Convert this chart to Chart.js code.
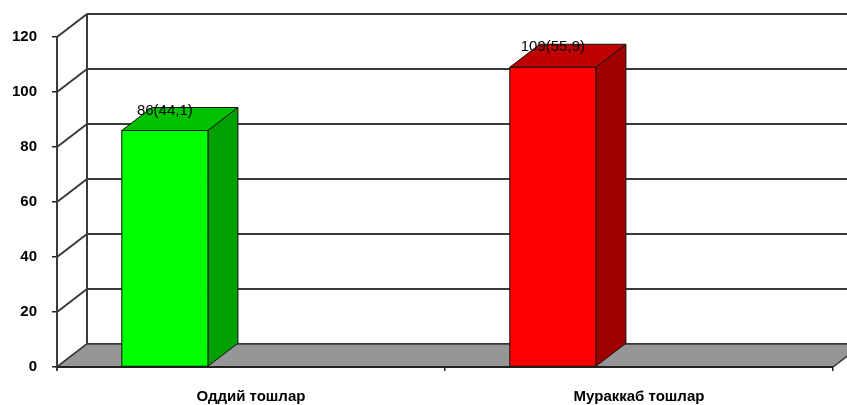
<!DOCTYPE html>
<html>
<head>
<meta charset="utf-8">
<script src="https://cdn.jsdelivr.net/npm/chart.js@4.4.1/dist/chart.umd.min.js"></script>
<style>
  html, body { margin: 0; padding: 0; background: #ffffff; }
  #wrap { width: 847px; height: 405px; }
</style>
</head>
<body>
<div id="wrap"><canvas id="c" width="847" height="405"></canvas></div>
<script>
// Stone counts by type, with their share in percent
const categories = ['Оддий тошлар', 'Мураккаб тошлар'];
const counts = [86, 109];
const percents = ['44,1', '55,9'];
const yTicks = [0, 20, 40, 60, 80, 100, 120];

const frontColors = ['#00ff00', '#ff0000'];
const topColors = ['#00c000', '#c00000'];
const sideColors = ['#00a000', '#a00000'];

// Depth of the 3D box (pixels to the right and up)
const DX = 30, DY = -23;
const LINE = '#3a3a3a';

function poly(ctx, pts, fill, stroke, lw) {
  ctx.beginPath();
  ctx.moveTo(pts[0][0], pts[0][1]);
  for (let i = 1; i < pts.length; i++) ctx.lineTo(pts[i][0], pts[i][1]);
  ctx.closePath();
  if (fill) { ctx.fillStyle = fill; ctx.fill(); }
  if (stroke) { ctx.strokeStyle = stroke; ctx.lineWidth = lw || 1; ctx.stroke(); }
}

function line(ctx, x1, y1, x2, y2, color, lw) {
  ctx.beginPath();
  ctx.moveTo(x1, y1);
  ctx.lineTo(x2, y2);
  ctx.strokeStyle = color;
  ctx.lineWidth = lw;
  ctx.stroke();
}

const box3d = {
  id: 'box3d',
  beforeDatasetsDraw(chart) {
    const ctx = chart.ctx;
    const a = chart.chartArea;
    const y = chart.scales.y;
    ctx.save();
    // back wall and left wall grid lines
    yTicks.forEach(v => {
      const py = y.getPixelForValue(v);
      line(ctx, a.left + DX, py + DY, a.right + DX, py + DY, LINE, 2);
      line(ctx, a.left, py, a.left + DX, py + DY, LINE, 2);
    });
    // back-left vertical edge
    line(ctx, a.left + DX, y.getPixelForValue(120) + DY, a.left + DX, a.bottom + DY, LINE, 2);
    // floor
    poly(ctx, [[a.left, a.bottom], [a.right, a.bottom], [a.right + DX, a.bottom + DY], [a.left + DX, a.bottom + DY]], '#969696', LINE, 1.5);
    // front value axis
    line(ctx, a.left, y.getPixelForValue(120), a.left, a.bottom + 3, LINE, 2);
    line(ctx, a.left, a.bottom, a.right, a.bottom, '#222', 2);
    ctx.restore();
  },
  beforeDatasetDraw(chart, args) {
    const ctx = chart.ctx;
    const meta = args.meta;
    ctx.save();
    ctx.lineJoin = 'round';
    meta.data.forEach((el, i) => {
      const p = el.getProps(['x', 'y', 'base', 'width'], true);
      const w = p.width;
      const x0 = p.x - w / 2 - w;
      const x1 = x0 + w;
      const top = p.y, base = p.base;
      // side face
      poly(ctx, [[x1, top], [x1 + DX, top + DY], [x1 + DX, base + DY], [x1, base]], sideColors[i], '#111', 1);
      // top face
      poly(ctx, [[x0, top], [x1, top], [x1 + DX, top + DY], [x0 + DX, top + DY]], topColors[i], '#111', 1);
      // front face
      poly(ctx, [[x0, top], [x1, top], [x1, base], [x0, base]], frontColors[i], '#111', 1);
      // value label
      ctx.fillStyle = '#000';
      ctx.font = '15px "Liberation Sans", Arial, sans-serif';
      ctx.textAlign = 'center';
      ctx.textBaseline = 'middle';
      ctx.fillText(counts[i] + '(' + percents[i] + ')', (x0 + x1) / 2, top - 20);
    });
    ctx.restore();
    return false;
  }
};

new Chart(document.getElementById('c'), {
  type: 'bar',
  data: {
    labels: categories,
    datasets: [{
      data: counts,
      backgroundColor: frontColors,
      categoryPercentage: 1,
      barPercentage: 0.222
    }]
  },
  options: {
    responsive: false,
    animation: false,
    events: [],
    layout: { padding: { top: 37, right: 14, left: 0, bottom: 0 } },
    plugins: { legend: { display: false }, tooltip: { enabled: false } },
    scales: {
      x: {
        offset: true,
        border: { display: false },
        grid: { drawOnChartArea: false, drawTicks: true, tickLength: 4, color: '#222', lineWidth: 1.5, offset: true },
        ticks: {
          color: '#000',
          padding: 17,
          maxRotation: 0,
          font: { family: '"Liberation Sans", Arial, sans-serif', size: 15, weight: 'bold' }
        },
        afterFit(s) { s.height = 38; }
      },
      y: {
        min: 0,
        max: 120,
        border: { display: false },
        grid: { drawOnChartArea: false, drawTicks: true, tickLength: 5, color: '#222', lineWidth: 1.5 },
        ticks: {
          stepSize: 20,
          color: '#000',
          padding: 15,
          font: { family: '"Liberation Sans", Arial, sans-serif', size: 15, weight: 'bold' }
        },
        afterFit(s) { s.width = 57; }
      }
    }
  },
  plugins: [box3d]
});
</script>
</body>
</html>
